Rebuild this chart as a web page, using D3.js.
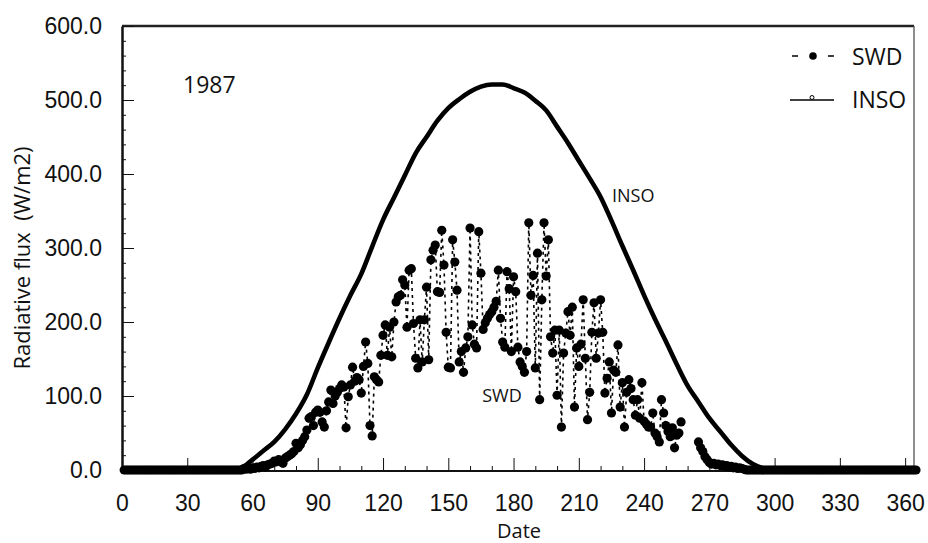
<!DOCTYPE html>
<html>
<head>
<meta charset="utf-8">
<script src="https://cdn.jsdelivr.net/npm/d3@7"></script>
<style>
    body { margin: 0; background: #fff; }
    svg { display: block; font-family: "Open Sans", sans-serif; }
    .axis path, .axis line { stroke: #111; }
    .axis text { fill: #111; font-size: 23px; }
    .label { fill: #111; white-space: pre; }
</style>
</head>
<body>
<div id="chart"></div>
<script>
const yearLabel = "1987";
const xTicks = [0, 30, 60, 90, 120, 150, 180, 210, 240, 270, 300, 330, 360];
const xMinorTicks = [10, 20, 40, 50, 70, 80, 100, 110, 130, 140, 160, 170, 190, 200,
    220, 230, 250, 260, 280, 290, 310, 320, 340, 350];
const yTicks = [0, 100, 200, 300, 400, 500, 600];
const yMinorTicks = [20, 40, 60, 80, 120, 140, 160, 180, 220, 240, 260, 280,
    320, 340, 360, 380, 420, 440, 460, 480, 520, 540, 560, 580];

// INSO, read every 5 days
const insoDays = [0, 10, 20, 30, 40, 50,
    55, 60, 65, 70, 75, 80, 85, 90, 95, 100,
    105, 110, 115, 120, 125, 130, 135, 140, 145, 150,
    155, 160, 165, 170, 175, 180, 185, 190, 195, 200,
    205, 210, 215, 220, 225, 230, 235, 240, 245, 250,
    255, 260, 265, 270, 275, 280, 285, 290, 295, 300,
    310, 320, 330, 340, 350, 365];
const insoValues = [0, 0, 0, 0, 0, 0,
    3, 14, 26, 38, 55, 76, 102, 138, 172, 205,
    236, 265, 302, 338, 368, 398, 428, 450, 472, 489,
    501, 511, 518, 521, 521, 516, 510, 499, 486, 464,
    442, 418, 394, 369, 337, 303, 270, 236, 204, 174,
    143, 114, 92, 70, 52, 34, 19, 8, 2, 0,
    0, 0, 0, 0, 0, 0];

// SWD, one value per day starting at day 1 (null = missing)
const swdValues = [
    0, 0, 0, 0, 0, 0, 0, 0, 0, 0,
    0, 0, 0, 0, 0, 0, 0, 0, 0, 0,
    0, 0, 0, 0, 0, 0, 0, 0, 0, 0,
    0, 0, 0, 0, 0, 0, 0, 0, 0, 0,
    0, 0, 0, 0, 0, 0, 0, 0, 0, 0,
    0, 0, 0, 0, 0, 2, 1, 2, 1, 3,
    2, 4, 3, 5, 6, 4, 7, 8, 9, 12,
    11, 14, 11, 9, 16, 18, 20, 22, 25, 36,
    30, 34, 40, 45, 54, 70, 72, 60, 78, 81,
    78, 65, 58, 80, 92, 108, 90, 100, 105, 110,
    115, 112, 57, 99, 115, 139, 120, 125, 122, 104,
    140, 173, 144, 60, 46, 126, 122, 119, 155, 182,
    196, 155, 193, 153, 200, 227, 234, 236, 257, 250,
    193, 270, 272, 198, 151, 138, 203, 146, 203, 247,
    149, 284, 297, 304, 241, 240, 324, 277, 186, 139,
    138, 311, 281, 243, 146, 160, 132, 165, 180, 327,
    196, 170, 165, 322, 266, 190, 199, 205, 210, 214,
    220, 228, 270, 205, 173, 166, 268, 245, 160, 261,
    241, 166, 146, 140, 132, 160, 334, 236, 263, 138,
    293, 95, 230, 334, 262, 311, 180, 158, 189, 101,
    189, 58, 158, 185, 214, 182, 220, 85, 165, 140,
    170, 230, 151, 68, 105, 186, 226, 151, 185, 230,
    186, 104, 124, 146, 77, 135, 132, 169, 85, 118,
    58, 105, 122, 110, 95, 74, 95, 70, 118, 66,
    62, 58, 58, 77, 50, 45, 38, 95, 77, 60,
    52, 45, 57, 30, 47, 50, 65, null, null, null,
    null, null, null, null, 38, 30, 25, 18, 14, 10,
    8, 9, 7, 8, 6, 7, 5, 6, 4, 5,
    3, 4, 2, 3, 2, 1, 0, 0, 0, 0,
    0, 0, 0, 0, 0, 0, 0, 0, 0, 0,
    0, 0, 0, 0, 0, 0, 0, 0, 0, 0,
    0, 0, 0, 0, 0, 0, 0, 0, 0, 0,
    0, 0, 0, 0, 0, 0, 0, 0, 0, 0,
    0, 0, 0, 0, 0, 0, 0, 0, 0, 0,
    0, 0, 0, 0, 0, 0, 0, 0, 0, 0,
    0, 0, 0, 0, 0, 0, 0, 0, 0, 0,
    0, 0, 0, 0, 0];

(function () {
    "use strict";

    const width = 928;
    const height = 543;
    const margin = { top: 26, right: 12, bottom: 73, left: 122 };

    const inso = insoDays.map((day, i) => ({ day, value: insoValues[i] }));
    const swd = swdValues.map((value, i) => ({ day: i + 1, value }));

    const xScale = d3.scaleLinear()
        .domain([0, 365])
        .range([margin.left, width - margin.right]);

    const yScale = d3.scaleLinear()
        .domain([0, 600])
        .range([height - margin.bottom, margin.top]);

    const svg = d3.select("#chart").append("svg")
        .attr("width", width)
        .attr("height", height);

    const plotBottom = yScale(0);
    const plotRight = xScale(365);

    // frame: top and right
    svg.append("path")
        .attr("d", `M${margin.left},${margin.top}H${plotRight - 2}`)
        .attr("stroke", "#222")
        .attr("stroke-width", 2.5)
        .attr("fill", "none");

    svg.append("path")
        .attr("d", `M${plotRight - 2},${margin.top}V${plotBottom}`)
        .attr("stroke", "#444")
        .attr("stroke-width", 1.2)
        .attr("fill", "none");

    // x axis, ticks point inward
    svg.append("g")
        .attr("class", "axis")
        .attr("transform", `translate(0,${plotBottom + 1})`)
        .call(d3.axisBottom(xScale)
            .tickValues(xMinorTicks)
            .tickSizeInner(-5)
            .tickSizeOuter(0)
            .tickFormat(""))
        .call(g => g.select(".domain").remove());

    svg.append("g")
        .attr("class", "axis")
        .attr("transform", `translate(0,${plotBottom + 1})`)
        .call(d3.axisBottom(xScale)
            .tickValues(xTicks)
            .tickSizeInner(-13)
            .tickSizeOuter(0)
            .tickPadding(24)
            .tickFormat(d3.format("d")))
        .call(g => g.select(".domain")
            .attr("d", `M${margin.left},0H${plotRight - 2}`)
            .attr("stroke-width", 2));

    // y axis
    svg.append("g")
        .attr("class", "axis")
        .attr("transform", `translate(${margin.left},0)`)
        .call(d3.axisLeft(yScale)
            .tickValues(yMinorTicks)
            .tickSizeInner(-4)
            .tickSizeOuter(0)
            .tickFormat(""))
        .call(g => g.select(".domain").remove());

    svg.append("g")
        .attr("class", "axis")
        .attr("transform", `translate(${margin.left},0)`)
        .call(d3.axisLeft(yScale)
            .tickValues(yTicks)
            .tickSizeInner(-12)
            .tickSizeOuter(0)
            .tickPadding(20)
            .tickFormat(d3.format(".1f")))
        .call(g => g.select(".domain").attr("stroke-width", 2.5));

    // INSO curve
    const insoLine = d3.line()
        .x(d => xScale(d.day))
        .y(d => yScale(d.value))
        .curve(d3.curveMonotoneX);

    svg.append("path")
        .attr("d", insoLine(inso))
        .attr("fill", "none")
        .attr("stroke", "#000")
        .attr("stroke-width", 4.6);

    // SWD dashed line and dots
    const swdLine = d3.line()
        .defined(d => d.value !== null)
        .x(d => xScale(d.day))
        .y(d => yScale(d.value));

    svg.append("path")
        .attr("d", swdLine(swd))
        .attr("fill", "none")
        .attr("stroke", "#000")
        .attr("stroke-width", 1.6)
        .attr("stroke-dasharray", "3,4");

    svg.append("g")
        .selectAll("circle")
        .data(swd.filter(d => d.value !== null))
        .join("circle")
        .attr("cx", d => xScale(d.day))
        .attr("cy", d => yScale(d.value))
        .attr("r", 4.6)
        .attr("fill", "#000");

    // axis titles
    svg.append("text")
        .attr("class", "label")
        .attr("x", (margin.left + plotRight) / 2)
        .attr("y", 538)
        .attr("text-anchor", "middle")
        .style("font-size", "20px")
        .text("Date");

    svg.append("text")
        .attr("class", "label")
        .attr("transform", "translate(30,258) rotate(-90)")
        .attr("text-anchor", "middle")
        .style("font-size", "22px")
        .text("Radiative flux  (W/m2)");

    // in-plot labels
    svg.append("text")
        .attr("class", "label")
        .attr("x", 183)
        .attr("y", 93)
        .style("font-size", "23px")
        .text(yearLabel);

    svg.append("text")
        .attr("class", "label")
        .attr("x", 502)
        .attr("y", 402)
        .attr("text-anchor", "middle")
        .style("font-size", "18px")
        .text("SWD");

    svg.append("text")
        .attr("class", "label")
        .attr("x", 612)
        .attr("y", 202)
        .style("font-size", "18px")
        .text("INSO");

    // legend
    const legend = svg.append("g")
        .attr("class", "legend");

    legend.append("path")
        .attr("d", "M792,56H798M828,56H834")
        .attr("stroke", "#000")
        .attr("stroke-width", 1.6);

    legend.append("circle")
        .attr("cx", 813)
        .attr("cy", 56)
        .attr("r", 3.8)
        .attr("fill", "#000");

    legend.append("text")
        .attr("class", "label")
        .attr("x", 852)
        .attr("y", 65)
        .style("font-size", "23px")
        .text("SWD");

    legend.append("path")
        .attr("d", "M790,100H834")
        .attr("stroke", "#000")
        .attr("stroke-width", 1.6);

    legend.append("circle")
        .attr("cx", 812)
        .attr("cy", 97.5)
        .attr("r", 2)
        .attr("fill", "#fff")
        .attr("stroke", "#000")
        .attr("stroke-width", 1);

    legend.append("text")
        .attr("class", "label")
        .attr("x", 852)
        .attr("y", 108)
        .style("font-size", "23px")
        .text("INSO");
}());
</script>
</body>
</html>
